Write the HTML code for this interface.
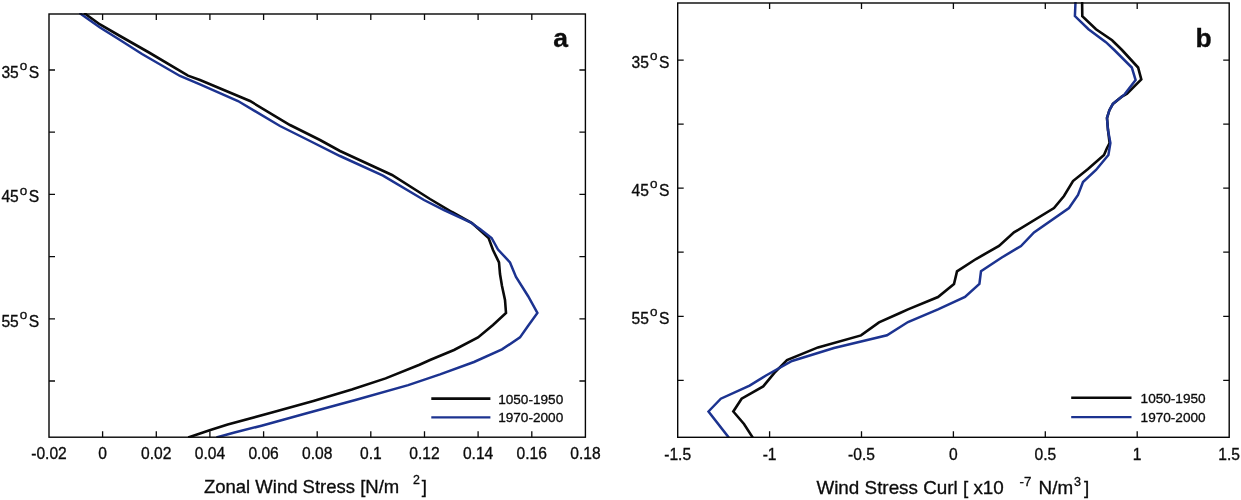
<!DOCTYPE html>
<html lang="en"><head><meta charset="utf-8"><title>Wind stress figure</title>
<style>
html,body{margin:0;padding:0;background:#fff;}
body{width:1241px;height:500px;overflow:hidden;}
svg{display:block;will-change:transform;}
text{font-family:"Liberation Sans", Arial, Helvetica, sans-serif;fill:#0c0c0c;stroke:#0c0c0c;stroke-width:0.32px;}
.tk{font-size:15.6px;}
.sup{font-size:12.4px;}
.lab{font-size:18.2px;}
.lg{font-size:13.6px;}
.pn{font-size:26.5px;font-weight:bold;}
</style></head><body>
<svg width="1241" height="500" viewBox="0 0 1241 500">
<rect x="0" y="0" width="1241" height="500" fill="#ffffff"/>
<g id="panel-a">
<clipPath id="ca"><rect x="49.0" y="13.0" width="536.4" height="424.8"/></clipPath>
<g clip-path="url(#ca)"><polyline points="84.0,13.0 100.0,24.5 120.0,36.0 149.0,52.5 188.0,75.6 200.0,80.0 250.0,101.0 290.0,125.0 320.0,140.0 340.0,151.0 392.0,175.0 430.0,199.0 452.0,212.0 472.0,223.0 488.6,238.0 493.0,250.0 499.0,262.4 500.0,274.0 502.0,286.0 505.0,300.0 506.0,313.0 493.0,325.0 478.0,337.4 454.0,350.0 430.0,360.0 419.5,364.8 385.6,378.4 351.8,389.6 313.4,400.9 272.8,412.2 227.7,424.6 209.6,430.3 188.2,437.5" fill="none" stroke="#0a0a0a" stroke-width="2.6" stroke-linejoin="miter" stroke-linecap="butt"/><polyline points="79.5,13.0 100.0,27.5 120.0,40.0 142.0,54.0 180.0,76.0 200.0,84.4 238.0,101.0 280.0,126.0 310.0,141.0 340.0,156.0 383.0,175.6 424.0,200.0 444.0,210.0 470.0,222.0 480.0,229.0 491.6,238.0 498.0,249.5 510.0,262.4 516.0,277.0 528.0,296.0 537.4,313.0 528.0,326.0 520.0,337.4 502.0,349.4 474.0,362.0 440.0,374.4 408.2,385.1 356.3,399.8 306.7,413.3 261.5,425.7 234.5,432.5 216.4,437.5" fill="none" stroke="#1c3390" stroke-width="2.5" stroke-linejoin="miter" stroke-linecap="butt"/></g>
<rect x="49.0" y="14.0" width="536.4" height="423.2" fill="none" stroke="#050505" stroke-width="1.4"/>
<path d="M102.6 437.2 v-6 M102.6 14.0 v6 M156.3 437.2 v-6 M156.3 14.0 v6 M209.9 437.2 v-6 M209.9 14.0 v6 M263.6 437.2 v-6 M263.6 14.0 v6 M317.2 437.2 v-6 M317.2 14.0 v6 M370.8 437.2 v-6 M370.8 14.0 v6 M424.5 437.2 v-6 M424.5 14.0 v6 M478.1 437.2 v-6 M478.1 14.0 v6 M531.8 437.2 v-6 M531.8 14.0 v6 M49.0 70.0 h6 M585.4 70.0 h-6 M49.0 132.2 h6 M585.4 132.2 h-6 M49.0 194.4 h6 M585.4 194.4 h-6 M49.0 256.6 h6 M585.4 256.6 h-6 M49.0 318.8 h6 M585.4 318.8 h-6 M49.0 381.0 h6 M585.4 381.0 h-6" fill="none" stroke="#0a0a0a" stroke-width="1.3"/>
<text class="tk" x="49.0" y="459.0" text-anchor="middle">-0.02</text>
<text class="tk" x="102.6" y="459.0" text-anchor="middle">0</text>
<text class="tk" x="156.3" y="459.0" text-anchor="middle">0.02</text>
<text class="tk" x="209.9" y="459.0" text-anchor="middle">0.04</text>
<text class="tk" x="263.6" y="459.0" text-anchor="middle">0.06</text>
<text class="tk" x="317.2" y="459.0" text-anchor="middle">0.08</text>
<text class="tk" x="370.8" y="459.0" text-anchor="middle">0.1</text>
<text class="tk" x="424.5" y="459.0" text-anchor="middle">0.12</text>
<text class="tk" x="478.1" y="459.0" text-anchor="middle">0.14</text>
<text class="tk" x="531.8" y="459.0" text-anchor="middle">0.16</text>
<text class="tk" x="585.4" y="459.0" text-anchor="middle">0.18</text>
<text class="tk" x="1.4" y="77.8">35</text><text class="sup" style="font-size:13.5px" x="19.7" y="70.1">o</text><text class="tk" x="28.8" y="77.8">S</text>
<text class="tk" x="1.4" y="202.2">45</text><text class="sup" style="font-size:13.5px" x="19.7" y="194.5">o</text><text class="tk" x="28.8" y="202.2">S</text>
<text class="tk" x="1.4" y="326.6">55</text><text class="sup" style="font-size:13.5px" x="19.7" y="318.9">o</text><text class="tk" x="28.8" y="326.6">S</text>
<text class="pn" x="553.2" y="47.2">a</text>
<line x1="431.3" y1="398.6" x2="490.4" y2="398.6" stroke="#0a0a0a" stroke-width="2.6"/>
<line x1="431.3" y1="417.4" x2="490.4" y2="417.4" stroke="#1c3390" stroke-width="2.3"/>
<text class="lg" x="498.2" y="403.8">1050-1950</text>
<text class="lg" x="498.2" y="422.4">1970-2000</text>
<text class="lab" style="font-size:18.5px" x="203.9" y="492.8">Zonal Wind Stress [N/m</text>
<text class="sup" x="413.1" y="484.4">2</text>
<text class="lab" style="font-size:18.5px" x="421.8" y="492.8">]</text>
</g>
<g id="panel-b">
<clipPath id="cb"><rect x="677.7" y="2.0" width="551.5" height="435.9"/></clipPath>
<g clip-path="url(#cb)"><polyline points="1082.1,2.0 1082.3,16.1 1096.0,29.2 1112.1,40.3 1122.0,50.0 1138.1,67.5 1141.3,79.4 1127.0,93.6 1121.5,96.9 1112.9,103.9 1109.4,110.2 1107.0,118.0 1108.0,130.0 1109.6,143.0 1107.0,148.0 1104.0,155.0 1088.0,169.0 1073.0,181.0 1064.0,196.0 1054.0,208.0 1014.0,232.4 999.0,246.0 976.0,259.0 957.0,271.4 954.0,284.0 938.0,297.0 908.0,309.4 900.0,313.0 879.0,322.4 861.0,335.4 818.0,347.4 787.0,360.0 774.4,372.8 763.2,386.4 741.6,398.7 733.3,411.5 744.0,424.0 752.8,437.6" fill="none" stroke="#0a0a0a" stroke-width="2.6" stroke-linejoin="miter" stroke-linecap="butt"/><polyline points="1075.5,2.0 1074.9,16.1 1088.5,29.2 1105.9,42.2 1114.3,50.0 1131.8,67.5 1135.6,80.1 1124.8,94.1 1112.9,103.9 1109.4,110.2 1107.0,118.0 1108.0,130.0 1110.4,143.0 1108.4,155.0 1096.0,170.0 1083.0,182.0 1078.0,195.0 1069.0,208.0 1034.0,232.4 1021.0,246.0 1001.0,258.0 981.0,271.2 979.4,284.0 965.0,297.0 938.0,309.4 908.0,322.0 887.0,335.3 834.0,348.0 792.0,361.0 766.0,375.5 749.6,385.6 720.8,398.7 708.5,411.5 728.8,437.6" fill="none" stroke="#1c3390" stroke-width="2.5" stroke-linejoin="miter" stroke-linecap="butt"/></g>
<rect x="677.7" y="3.0" width="551.5" height="434.3" fill="none" stroke="#050505" stroke-width="1.4"/>
<path d="M769.6 437.3 v-6 M769.6 3.0 v6 M861.5 437.3 v-6 M861.5 3.0 v6 M953.4 437.3 v-6 M953.4 3.0 v6 M1045.3 437.3 v-6 M1045.3 3.0 v6 M1137.2 437.3 v-6 M1137.2 3.0 v6 M677.7 60.1 h6 M1229.2 60.1 h-6 M677.7 124.1 h6 M1229.2 124.1 h-6 M677.7 188.2 h6 M1229.2 188.2 h-6 M677.7 252.2 h6 M1229.2 252.2 h-6 M677.7 316.3 h6 M1229.2 316.3 h-6 M677.7 380.3 h6 M1229.2 380.3 h-6" fill="none" stroke="#0a0a0a" stroke-width="1.3"/>
<text class="tk" x="677.7" y="459.9" text-anchor="middle">-1.5</text>
<text class="tk" x="769.6" y="459.9" text-anchor="middle">-1</text>
<text class="tk" x="861.5" y="459.9" text-anchor="middle">-0.5</text>
<text class="tk" x="953.4" y="459.9" text-anchor="middle">0</text>
<text class="tk" x="1045.3" y="459.9" text-anchor="middle">0.5</text>
<text class="tk" x="1137.2" y="459.9" text-anchor="middle">1</text>
<text class="tk" x="1229.1" y="459.9" text-anchor="middle">1.5</text>
<text class="tk" x="631.6" y="67.6">35</text><text class="sup" style="font-size:13.5px" x="649.9" y="59.9">o</text><text class="tk" x="659.0" y="67.6">S</text>
<text class="tk" x="631.6" y="195.7">45</text><text class="sup" style="font-size:13.5px" x="649.9" y="188.0">o</text><text class="tk" x="659.0" y="195.7">S</text>
<text class="tk" x="631.6" y="323.8">55</text><text class="sup" style="font-size:13.5px" x="649.9" y="316.1">o</text><text class="tk" x="659.0" y="323.8">S</text>
<text class="pn" x="1195.4" y="47.2">b</text>
<line x1="1071.2" y1="397.8" x2="1131.5" y2="397.8" stroke="#0a0a0a" stroke-width="2.6"/>
<line x1="1071.2" y1="417.1" x2="1131.5" y2="417.1" stroke="#1c3390" stroke-width="2.3"/>
<text class="lg" x="1140.6" y="402.6">1050-1950</text>
<text class="lg" x="1140.6" y="421.8">1970-2000</text>
<text class="lab" style="font-size:18.85px" x="816.4" y="493.6">Wind Stress Curl [ x10</text>
<text class="sup" style="font-size:13.3px" x="1019.6" y="485.8">-7</text>
<text class="lab" style="font-size:18.85px" x="1038.6" y="493.6">N/m</text>
<text class="sup" style="font-size:12.6px" x="1074.0" y="486.3">3</text>
<text class="lab" style="font-size:18.85px" x="1084.1" y="493.6">]</text>
</g>
</svg></body></html>
